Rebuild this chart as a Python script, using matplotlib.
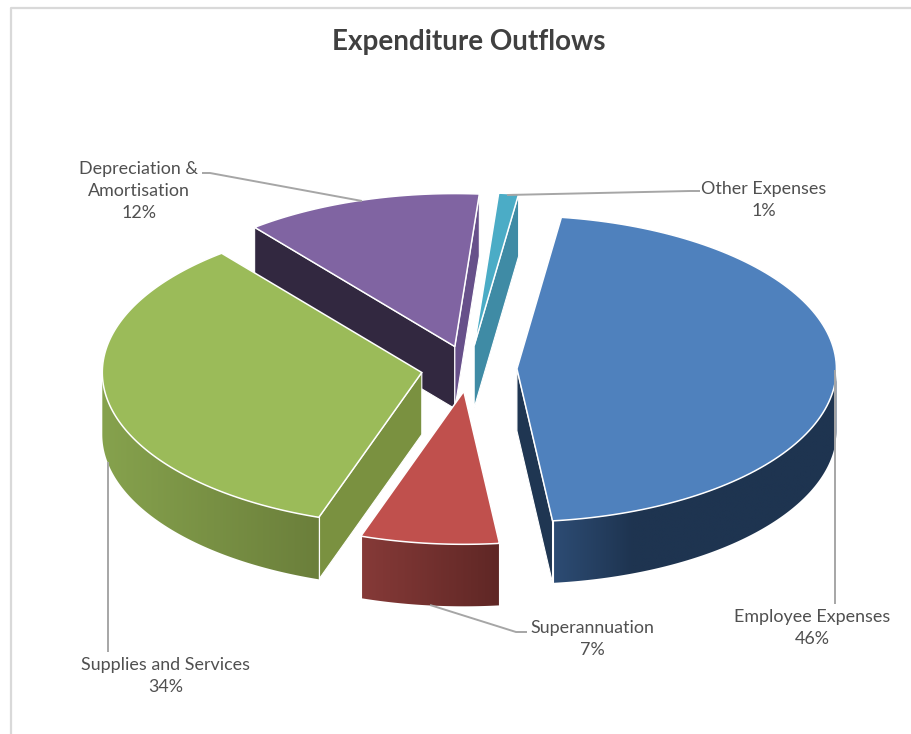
#! /usr/bin/env python

# expenditure_pie.py
# Exploded 3D style pie of expenditure outflows, drawn with plain polygons

import numpy as np
import matplotlib
matplotlib.use('Agg')
import matplotlib.pyplot as plt
from matplotlib.colors import LinearSegmentedColormap
from matplotlib.patches import Polygon

plt.rcParams['font.family'] = ['Lato', 'DejaVu Sans']

# Data
labels = ['Employee Expenses', 'Superannuation', 'Supplies and Services',
          'Depreciation &\nAmortisation', 'Other Expenses']
shares = [46, 7, 34, 12, 1]

# Colours: top face, wall at the start of the slice, wall at the end of it,
# rim gradient from left to right
top_colors = ['#4f81bd', '#c0504d', '#9bbb59', '#8064a2', '#4bacc6']
start_walls = ['#1f3652', '#772f2d', '#7a9140', '#322840', '#3f8ba5']
end_walls = ['#1f3652', '#772f2d', '#7a9140', '#67508a', '#3f8ba5']
rim_left = ['#2d4c74', '#863a38', '#86a24d', '#4b3b60', '#3f8ba5']
rim_right = ['#1e3450', '#5f2725', '#6b7f3b', '#4b3b60', '#3f8ba5']
# how far across the rim the gradient runs before it stays flat
rim_reach = [0.28, 1, 1, 1, 1]

# Label centres and leader lines, in pixels
label_pos = [(812, 627), (592, 638), (166, 675), (139, 190), (764, 199)]
leaders = [[(835, 370), (835, 604)],
           [(430, 605), (516, 632), (527, 632)],
           [(108, 462), (108, 652)],
           [(362, 201), (210, 173), (202, 173)],
           [(507, 195), (690, 191), (700, 191)]]

# Pie geometry
cx, cy = 469, 368.5
rx, ry = 319.5, 153
depth = 62
first_angle = 8
explode = 0.15


def rim_xy(angle, ox, oy):
    '''Point on the slice rim, angle in degrees clockwise from the top.'''
    a = np.radians(angle)
    return ox + rx * np.sin(a), oy - ry * np.cos(a)


def draw_wall(ax, ox, oy, angle, color, z):
    # flat side of a slice, from the apex out to the rim
    px, py = rim_xy(angle, ox, oy)
    pts = [(ox, oy), (px, py), (px, py + depth), (ox, oy + depth)]
    ax.add_patch(Polygon(pts, closed=True, facecolor=color, edgecolor='white',
                         linewidth=0.8, zorder=z))


def draw_rim(ax, ox, oy, start, end, i, z):
    # outer wall, only the front half of the ellipse can be seen
    lo, hi = max(start, 90), min(end, 270)
    if lo >= hi:
        return
    angles = np.linspace(lo, hi, 160)
    xs, ys = rim_xy(angles, ox, oy)
    pts = list(zip(xs, ys)) + list(zip(xs[::-1], ys[::-1] + depth))
    outline = Polygon(pts, closed=True, facecolor='none', edgecolor='none', zorder=z)
    ax.add_patch(outline)

    # horizontal gradient clipped to the rim shape
    x0, x1 = xs.min(), xs.max()
    cmap = LinearSegmentedColormap.from_list(
        'rim', [(0, rim_left[i]), (rim_reach[i], rim_right[i])] +
        ([(1, rim_right[i])] if rim_reach[i] < 1 else []))
    grad = np.linspace(0, 1, 256).reshape(1, -1)
    img = ax.imshow(grad, cmap=cmap, extent=(x0, x1, ys.max() + depth + 2, ys.min() - 2),
                    aspect='auto', zorder=z, interpolation='bilinear')
    img.set_clip_path(outline)

    # thin light line down the real corners of the rim
    if lo == start:
        ax.plot([xs[0], xs[0]], [ys[0], ys[0] + depth], color='white', lw=0.8, zorder=z + 0.2)
    if hi == end:
        ax.plot([xs[-1], xs[-1]], [ys[-1], ys[-1] + depth], color='white', lw=0.8, zorder=z + 0.2)


def draw_slice(ax, i, start, end, z):
    mid = np.radians((start + end) / 2)
    ox = cx + explode * rx * np.sin(mid)
    oy = cy - explode * ry * np.cos(mid)

    # a flat side only shows when it faces the viewer
    if np.sin(np.radians(start)) < 0:
        draw_wall(ax, ox, oy, start, start_walls[i], z)
    if np.sin(np.radians(end)) > 0:
        draw_wall(ax, ox, oy, end, end_walls[i], z)
    draw_rim(ax, ox, oy, start, end, i, z + 0.1)

    angles = np.linspace(start, end, 120)
    xs, ys = rim_xy(angles, ox, oy)
    pts = [(ox, oy)] + list(zip(xs, ys))
    ax.add_patch(Polygon(pts, closed=True, facecolor=top_colors[i], edgecolor='white',
                         linewidth=1.1, zorder=z + 0.5))


fig = plt.figure(figsize=(9.12, 7.34), dpi=100)
ax = fig.add_axes([0, 0, 1, 1])
ax.axis('off')

# chart area border, only top and left show
ax.plot([11, 11, 912], [734, 8, 8], color='#d9d9d9', lw=1.6, zorder=1)

# slices nearest the back are painted first
total = sum(shares)
edges = first_angle + np.cumsum([0] + shares) * 360 / total
order = np.argsort([-np.cos(np.radians((edges[i] + edges[i + 1]) / 2)) for i in range(len(shares))])
for z, i in enumerate(order):
    draw_slice(ax, i, edges[i], edges[i + 1], 2 + z)

for pts in leaders:
    xs, ys = zip(*pts)
    ax.plot(xs, ys, color='#a6a6a6', lw=1.4, zorder=10, solid_capstyle='butt')

for name, share, (x, y) in zip(labels, shares, label_pos):
    ax.text(x, y + 1, f'{name}\n{share}%', ha='center', va='center', fontsize=12.9,
            color='#505050', linespacing=1.48, zorder=11)

ax.text(469, 42, 'Expenditure Outflows', ha='center', va='center', fontsize=20,
        fontweight='bold', color='#404040', zorder=11)

# imshow resets the limits, so they are fixed last
ax.set_xlim(0, 912)
ax.set_ylim(734, 0)

fig.savefig('out.png', dpi=100, facecolor='white')
